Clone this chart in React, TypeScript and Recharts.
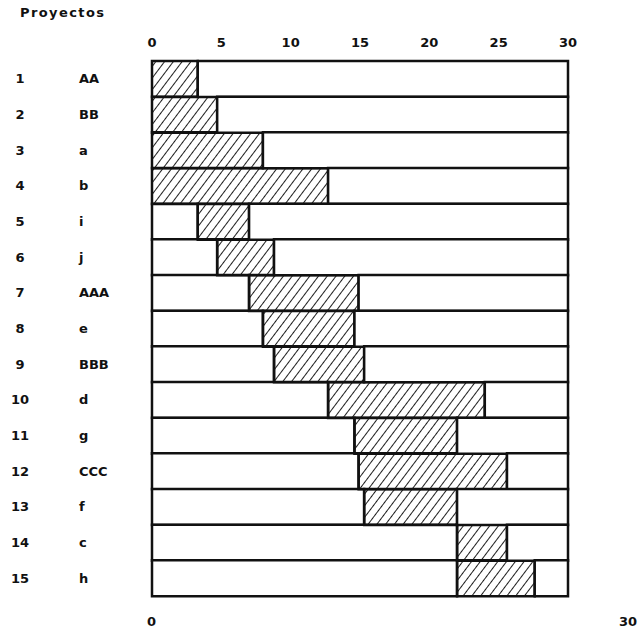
import React from 'react';
import { BarChart, Bar, XAxis, YAxis } from 'recharts';

const rowNumbers = ['1', '2', '3', '4', '5', '6', '7', '8', '9', '10', '11', '12', '13', '14', '15'];
const projects = ['AA', 'BB', 'a', 'b', 'i', 'j', 'AAA', 'e', 'BBB', 'd', 'g', 'CCC', 'f', 'c', 'h'];
const starts = [0, 0, 0, 0, 3.3, 4.7, 7, 8, 8.8, 12.7, 14.6, 14.9, 15.3, 22, 22];
const ends = [3.3, 4.7, 8, 12.7, 7, 8.8, 14.9, 14.6, 15.3, 24, 22, 25.6, 22, 25.6, 27.6];
const topTicks = [0, 5, 10, 15, 20, 25, 30];
const horizon = 30;

const data = projects.map((name, i) => ({
  name,
  num: rowNumbers[i],
  before: starts[i],
  active: ends[i] - starts[i],
  after: horizon - ends[i],
}));

const font = '"DejaVu Sans", sans-serif';
const ink = '#111';
const labelStyle = { fontFamily: font, fontSize: 13, fontWeight: 'bold' as const, color: ink };

function ProjectTick({ y, payload }: any) {
  const row = data[payload.index];
  return (
    <g>
      <text x={20} y={y} textAnchor="middle" dominantBaseline="central" fontFamily={font} fontSize={13} fontWeight="bold" fill={ink}>
        {row ? row.num : ''}
      </text>
      <text x={79} y={y} textAnchor="start" dominantBaseline="central" fontFamily={font} fontSize={13} fontWeight="bold" fill={ink}>
        {payload.value}
      </text>
    </g>
  );
}

function TopTick({ x, payload }: any) {
  return (
    <text x={x} y={42} textAnchor="middle" dominantBaseline="central" fontFamily={font} fontSize={13} fontWeight="bold" fill={ink}>
      {payload.value}
    </text>
  );
}

export default function App() {
  return (
    <div style={{ position: 'relative', width: 640, height: 630, background: '#fff' }}>
      <style>{'body{margin:0}'}</style>
      <svg width={0} height={0} style={{ position: 'absolute' }}>
        <defs>
          <pattern id="hatch" patternUnits="userSpaceOnUse" width="7" height="7" patternTransform="rotate(37)">
            <line x1="0" y1="0" x2="0" y2="7" stroke={ink} strokeWidth={1.9} />
          </pattern>
        </defs>
      </svg>
      <div style={{ ...labelStyle, position: 'absolute', left: 20, top: 5, letterSpacing: 1.4 }}>
        Proyectos
      </div>
      <BarChart
        width={640}
        height={630}
        data={data}
        layout="vertical"
        barCategoryGap={0}
        margin={{ top: 31, right: 72, left: 0, bottom: 34 }}
      >
        <XAxis type="number" orientation="top" domain={[0, horizon]} ticks={topTicks} axisLine={false} tickLine={false} height={30} tick={<TopTick />} />
        <YAxis type="category" dataKey="name" width={152} axisLine={false} tickLine={false} tick={<ProjectTick />} interval={0} />
        <Bar dataKey="before" stackId="g" fill="#fff" stroke={ink} strokeWidth={2.5} isAnimationActive={false} />
        <Bar dataKey="active" stackId="g" fill="url(#hatch)" stroke={ink} strokeWidth={2.5} isAnimationActive={false} />
        <Bar dataKey="after" stackId="g" fill="#fff" stroke={ink} strokeWidth={2.5} isAnimationActive={false} />
      </BarChart>
      <div style={{ ...labelStyle, position: 'absolute', left: 147, top: 614 }}>0</div>
      <div style={{ ...labelStyle, position: 'absolute', left: 619, top: 614 }}>30</div>
    </div>
  );
}
